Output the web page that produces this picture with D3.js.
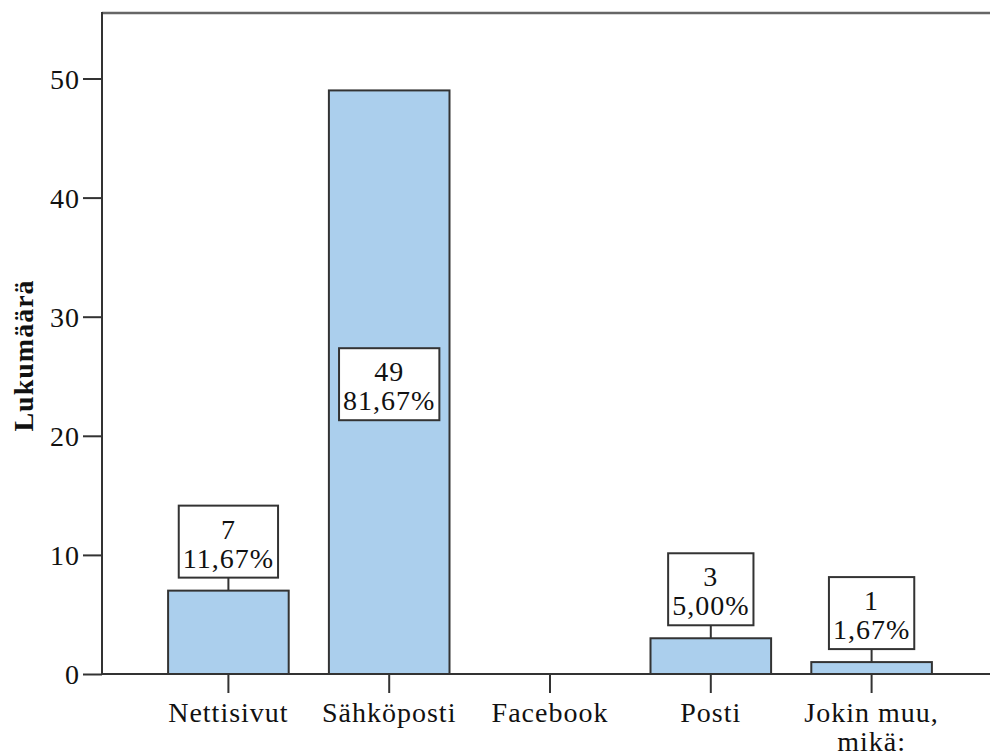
<!DOCTYPE html>
<html>
<head>
<meta charset="utf-8">
<script src="https://cdn.jsdelivr.net/npm/d3@7"></script>
<style>
  html, body { margin: 0; padding: 0; background: #fff; }
  svg { display: block; }
</style>
</head>
<body>
<svg id="chart" width="990" height="753"></svg>
<script>
// Response counts per channel
const categories = ["Nettisivut", "Sähköposti", "Facebook", "Posti", "Jokin muu, mikä:"];
const counts = [7, 49, 0, 3, 1];
const yTicks = [0, 10, 20, 30, 40, 50];
const yTitle = "Lukumäärä";

const total = d3.sum(counts);
const pctFormat = v => (v / total * 100).toFixed(2).replace(".", ",") + "%";

const SERIF = "'Liberation Serif', 'Times New Roman', Tinos, serif";
const plot = { left: 102, right: 990, top: 13, bottom: 674 };
const svg = d3.select("#chart");

const x = d3.scaleBand()
  .domain(categories)
  .range([148, 952])
  .paddingInner(0.25)
  .paddingOuter(0.125);

const y = d3.scaleLinear()
  .domain([0, 55.5])
  .range([plot.bottom, plot.top]);

const axisColor = "#333";
const fontSize = 28;
const tracking = "1px";

// Shared serif text styling
const serifText = sel => sel
  .style("font-family", SERIF)
  .style("font-size", fontSize + "px")
  .style("letter-spacing", tracking)
  .attr("fill", "#111");

// Top frame line
svg.append("line")
  .attr("x1", plot.left).attr("x2", plot.right)
  .attr("y1", plot.top).attr("y2", plot.top)
  .attr("stroke", "#666").attr("stroke-width", 2.5);

// Bars
svg.append("g").selectAll("rect")
  .data(categories.map((c, i) => ({ c, v: counts[i] })).filter(d => d.v > 0))
  .join("rect")
  .attr("x", d => x(d.c))
  .attr("y", d => y(d.v))
  .attr("width", x.bandwidth())
  .attr("height", d => y(0) - y(d.v))
  .attr("fill", "#abcfed")
  .attr("stroke", "#333")
  .attr("stroke-width", 2);

// Y axis
const yAxis = svg.append("g")
  .attr("transform", `translate(${plot.left},0)`)
  .call(d3.axisLeft(y).tickValues(yTicks).tickSize(19).tickPadding(3).tickFormat(d3.format("d")));
yAxis.select(".domain").remove();
yAxis.selectAll(".tick line").attr("stroke", axisColor).attr("stroke-width", 2);
yAxis.selectAll(".tick text").call(serifText).attr("dy", "0.34em");

svg.append("line")
  .attr("x1", plot.left).attr("x2", plot.left)
  .attr("y1", plot.top - 1).attr("y2", plot.bottom)
  .attr("stroke", axisColor).attr("stroke-width", 2);

// X axis
const xAxis = svg.append("g")
  .attr("transform", `translate(0,${plot.bottom})`)
  .call(d3.axisBottom(x).tickSize(19).tickFormat(""));
xAxis.select(".domain").remove();
xAxis.selectAll(".tick line").attr("stroke", axisColor).attr("stroke-width", 2);

svg.append("line")
  .attr("x1", plot.left).attr("x2", plot.right)
  .attr("y1", plot.bottom).attr("y2", plot.bottom)
  .attr("stroke", axisColor).attr("stroke-width", 2);

// Category labels, wrapped after the comma
const catLabels = svg.append("g");
categories.forEach(c => {
  const lines = c.includes(", ") ? [c.split(", ")[0] + ",", c.split(", ")[1]] : [c];
  const cx = x(c) + x.bandwidth() / 2;
  const t = catLabels.append("text")
    .attr("text-anchor", "middle")
    .call(serifText)
    .attr("x", cx)
    .attr("y", 722);
  lines.forEach((l, i) => {
    t.append("tspan")
      .attr("x", cx)
      .attr("dy", i === 0 ? 0 : 29)
      .text(l);
  });
});

// Y axis title
svg.append("text")
  .attr("transform", `translate(33,${(plot.top + plot.bottom) / 2 + 12}) rotate(-90)`)
  .attr("text-anchor", "middle")
  .style("font-family", SERIF)
  .style("font-size", "28px")
  .style("font-weight", "bold")
  .style("letter-spacing", tracking)
  .attr("fill", "#111")
  .text(yTitle);

// Value labels: count and share in a boxed callout
const boxH = 72;
const labelGroup = svg.append("g");
categories.forEach((c, i) => {
  const v = counts[i];
  if (v <= 0) return;
  const cx = x(c) + x.bandwidth() / 2;
  const barTop = y(v);
  const barH = y(0) - barTop;
  const inside = barH > boxH + 40;
  const boxTop = inside ? barTop + barH / 2 - boxH / 2 + 2 : barTop - 13 - boxH;

  const g = labelGroup.append("g");
  const rect = g.append("rect");
  const mk = (txt, yy) => g.append("text")
    .attr("text-anchor", "middle")
    .call(serifText)
    .attr("x", cx).attr("y", yy).text(txt);
  const t1 = mk(v, boxTop + 33);
  const t2 = mk(pctFormat(v), boxTop + 62);
  const w = Math.max(t1.node().getComputedTextLength(), t2.node().getComputedTextLength()) + 8;
  rect.attr("x", cx - w / 2).attr("y", boxTop)
    .attr("width", w).attr("height", boxH)
    .attr("fill", "#fff").attr("stroke", "#333").attr("stroke-width", 2);
  if (!inside) {
    g.append("line")
      .attr("x1", cx).attr("x2", cx)
      .attr("y1", boxTop + boxH).attr("y2", barTop)
      .attr("stroke", "#333").attr("stroke-width", 2);
  }
});
</script>
</body>
</html>
